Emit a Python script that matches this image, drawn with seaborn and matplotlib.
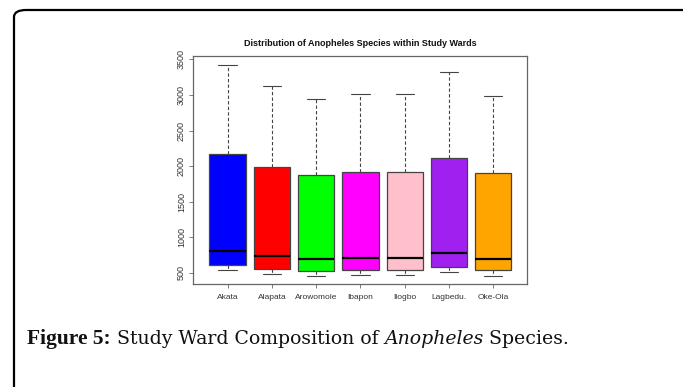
import pandas as pd
import numpy as np
import matplotlib
matplotlib.use('Agg')
import matplotlib.pyplot as plt
import seaborn as sns
from matplotlib.patches import FancyBboxPatch

# Five-number summaries (min, Q1, median, Q3, max)
wards = ['Akata', 'Alapata', 'Arowomole', 'Ibapon', 'Ilogbo', 'Lagbedu.', 'Oke-Ola']
mins = [542, 482, 458, 468, 468, 510, 458]
q1s = [612, 556, 524, 542, 542, 588, 542]
medians = [809, 735, 692, 706, 706, 781, 701]
q3s = [2176, 1985, 1872, 1914, 1914, 2111, 1900]
maxs = [3426, 3122, 2940, 3010, 3010, 3319, 2986]
colors = ['#0000FF', '#FF0000', '#00FF00', '#FF00FF', '#FFC0CB', '#A020F0', '#FFA500']

# long form: each ward gets its five summary points, so quartiles come out exact
rows = []
for w, a, b, c, d, e in zip(wards, mins, q1s, medians, q3s, maxs):
    for v in (a, b, c, d, e):
        rows.append({'ward': w, 'count': v})
df = pd.DataFrame(rows)

sns.set_style('white')
plt.rcParams['font.family'] = ['Liberation Sans', 'DejaVu Sans']

fig = plt.figure(figsize=(6.83, 3.87), dpi=100)

# rounded frame around the figure panel
frame = FancyBboxPatch((14 / 683, -20 / 387), 700 / 683, 397 / 387,
                       boxstyle='round,pad=0,rounding_size=0.018',
                       transform=fig.transFigure, fill=False,
                       edgecolor='black', linewidth=1.6, clip_on=False)
fig.patches.append(frame)

ax = fig.add_axes([193 / 683, 1 - 284 / 387, (527 - 193) / 683, (284 - 55.7) / 387])

sns.boxplot(data=df, x='ward', y='count', hue='ward', palette=colors,
            order=wards, hue_order=wards, width=0.82, whis=(0, 100),
            saturation=1, linecolor='#444444', linewidth=0.9, legend=False,
            medianprops={'color': 'black', 'linewidth': 1.6},
            whiskerprops={'linestyle': (0, (3, 2)), 'color': '#444444', 'linewidth': 0.8},
            capprops={'color': '#444444', 'linewidth': 0.8},
            ax=ax)

ax.set_xlim(-0.78, 6.76)
ax.set_ylim(345, 3552)
ax.set_yticks([500, 1000, 1500, 2000, 2500, 3000, 3500])
ax.set_xlabel('')
ax.set_ylabel('')
for s in ax.spines.values():
    s.set_visible(True)
    s.set_color('#666666')
    s.set_linewidth(0.9)
ax.tick_params(axis='both', length=3, width=0.6, color='#666666',
               labelsize=6, labelcolor='#333333', direction='out', pad=4)
ax.tick_params(axis='y', labelsize=6.5, pad=2)
ax.tick_params(left=True, bottom=True)
for lab in ax.get_yticklabels():
    lab.set_rotation(90)
    lab.set_va('center')

fig.text(360 / 683, 1 - 43 / 387, 'Distribution of Anopheles Species within Study Wards',
         ha='center', va='center', fontsize=6.5, fontweight='bold', color='#111111')

# caption built piece by piece
renderer = fig.canvas.get_renderer()
x = 27 / 683
y = 1 - 344 / 387
parts = [('Figure 5:', 'Liberation Serif', 15.5, 'bold', 'normal'),
         (' Study Ward Composition of ', 'DejaVu Serif', 13.6, 'normal', 'normal'),
         ('Anopheles', 'DejaVu Serif', 13.6, 'normal', 'italic'),
         (' Species.', 'DejaVu Serif', 13.6, 'normal', 'normal')]
for txt, fam, size, weight, style in parts:
    t = fig.text(x, y, txt, ha='left', va='baseline', fontsize=size,
                 family=fam, fontweight=weight, fontstyle=style,
                 color='#111111')
    bb = t.get_window_extent(renderer=renderer)
    x += bb.width / fig.bbox.width

fig.savefig('out.png', dpi=100)
